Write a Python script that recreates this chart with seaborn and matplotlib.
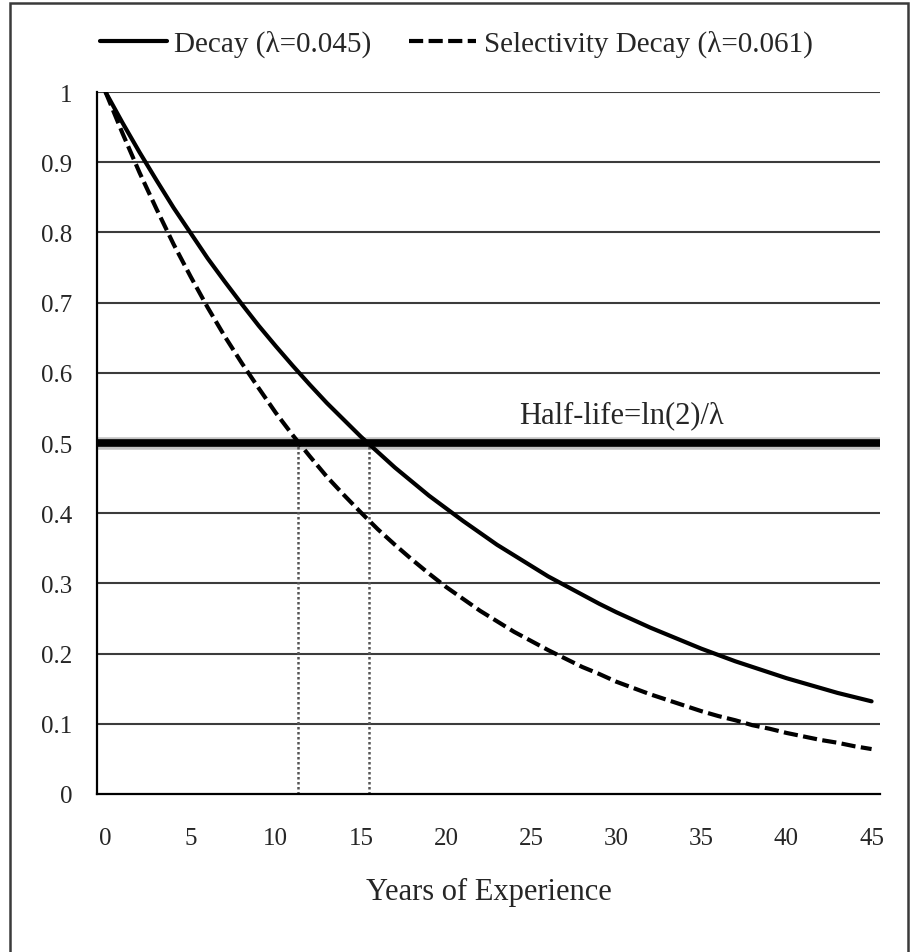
"""Exponential decay of experience value: decay vs. selectivity decay, with half-life marks."""

import matplotlib

matplotlib.use("Agg")
import matplotlib.pyplot as plt
import numpy as np
import pandas as pd
import seaborn as sns
from matplotlib.patches import Rectangle

# ── data ──
years = list(range(0, 46))
decay = [
    1.000, 0.956, 0.914, 0.874, 0.835, 0.799, 0.763, 0.730, 0.698, 0.667,
    0.638, 0.610, 0.583, 0.557, 0.533, 0.509, 0.487, 0.465, 0.445, 0.425,
    0.407, 0.389, 0.372, 0.355, 0.340, 0.325, 0.310, 0.297, 0.284, 0.271,
    0.259, 0.248, 0.237, 0.227, 0.217, 0.207, 0.198, 0.189, 0.181, 0.173,
    0.165, 0.158, 0.151, 0.144, 0.138, 0.132,
]
selectivity = [
    1.000, 0.941, 0.885, 0.833, 0.783, 0.737, 0.693, 0.652, 0.614, 0.578,
    0.543, 0.511, 0.481, 0.452, 0.426, 0.401, 0.377, 0.355, 0.334, 0.314,
    0.295, 0.278, 0.261, 0.246, 0.231, 0.218, 0.205, 0.193, 0.181, 0.171,
    0.160, 0.151, 0.142, 0.134, 0.126, 0.118, 0.111, 0.105, 0.098, 0.093,
    0.087, 0.082, 0.077, 0.073, 0.068, 0.064,
]
series_names = ["Decay (\u03bb=0.045)", "Selectivity Decay (\u03bb=0.061)"]
half_life_years = [11.3, 15.5]
half_life_level = 0.5
half_life_label = "Half-life=ln(2)/\u03bb"
x_ticklabels = [0, 5, 10, 15, 20, 25, 30, 35, 40, 45]
y_ticks = [0, 0.1, 0.2, 0.3, 0.4, 0.5, 0.6, 0.7, 0.8, 0.9, 1]
y_ticklabels = ["0", "0.1", "0.2", "0.3", "0.4", "0.5", "0.6", "0.7", "0.8", "0.9", "1"]
x_label = "Years of Experience"

df = pd.DataFrame(
    {
        "year": years * 2,
        "value": decay + selectivity,
        "series": [series_names[0]] * len(years) + [series_names[1]] * len(years),
    }
)

sns.set_theme(style="white")
plt.rcParams["font.family"] = ["Liberation Serif", "DejaVu Serif"]
plt.rcParams["font.size"] = 18

fig = plt.figure(figsize=(9.12, 9.53), dpi=100)
ax = fig.add_axes([0.1064, 0.1658, 0.965 - 0.1064, 0.9024 - 0.1658])

# horizontal grid
for y in y_ticks[1:]:
    ax.axhline(y, color="#3c3c3c", lw=1.5, zorder=1)

sns.lineplot(
    data=df,
    x="year",
    y="value",
    hue="series",
    style="series",
    palette=["black", "black"],
    dashes={series_names[0]: "", series_names[1]: (3.4, 1.3)},
    linewidth=3,
    ax=ax,
    zorder=4,
)

# half-life line + markers
ax.axhline(half_life_level, color="#9a9a9a", lw=9, zorder=2, alpha=0.6)
ax.axhline(half_life_level, color="black", lw=5.5, zorder=3)
for hx in half_life_years:
    ax.plot([hx, hx], [0, half_life_level], color="#555555", lw=1.8,
            linestyle=(0, (1, 1)), zorder=2)
ax.text(30.3, 0.529, half_life_label, ha="center", va="baseline", fontsize=22, zorder=5)

# axes styling (category-style x axis: ticks between categories)
ax.set_xlim(-0.5, 45.5)
ax.set_ylim(0, 1)
ax.set_xticks(np.arange(-0.5, 45, 5))
ax.set_xticklabels([])
ax.set_xticks(x_ticklabels, minor=True)
ax.set_xticklabels([str(v) for v in x_ticklabels], minor=True)
ax.tick_params(axis="x", which="major", direction="out", length=7, width=1.4, color="black")
ax.tick_params(axis="x", which="minor", length=0, pad=24, labelsize=18)
ax.set_yticks(y_ticks)
ax.set_yticklabels(y_ticklabels)
ax.tick_params(axis="y", direction="out", length=7, width=1.4, color="black", pad=11, labelsize=18)
ax.set_xlabel(x_label, fontsize=22, labelpad=20)
ax.set_ylabel("")
for side in ["top", "right"]:
    ax.spines[side].set_visible(False)
for side in ["left", "bottom"]:
    ax.spines[side].set_color("black")
    ax.spines[side].set_linewidth(1.6)

# legend on top
handles, labels = ax.get_legend_handles_labels()
ax.legend_.remove()
fig.legend(
    handles,
    labels,
    loc="center",
    bbox_to_anchor=(0.5, 0.953),
    ncol=2,
    frameon=False,
    fontsize=21,
    handlelength=2.3,
    handletextpad=0.25,
    columnspacing=1.3,
)

# outer frame
fig.patches.append(
    Rectangle((10 / 912, -0.02), (908 - 10) / 912, 1 - 4 / 953 + 0.02,
              transform=fig.transFigure, fill=False, edgecolor="#3a3a3a", lw=1.8)
)

fig.savefig("out.png", dpi=100)
